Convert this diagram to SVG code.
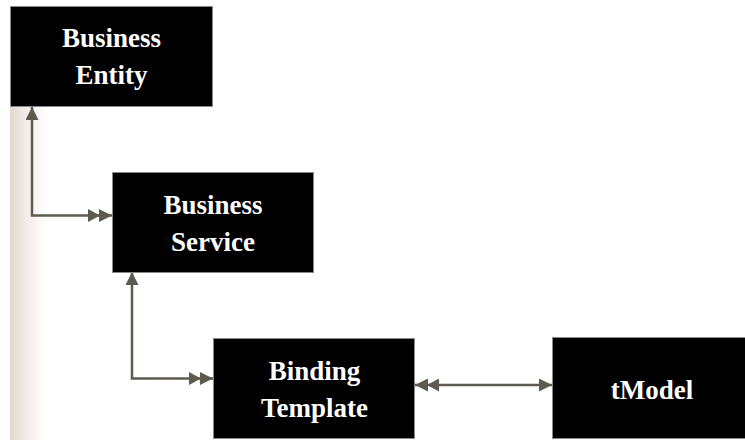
<svg xmlns="http://www.w3.org/2000/svg" width="745" height="440" viewBox="0 0 745 440">
  <style>
    .box { fill: #000; stroke: #8a8a8a; stroke-width: 1; }
    .label { fill: #fff; font-family: "Liberation Serif", "Times New Roman", serif; font-weight: bold; font-size: 27px; text-anchor: middle; }
    .link { fill: none; stroke: #5e5a4e; stroke-width: 2.5; }
  </style>
  <defs>
    <linearGradient id="edgeShade" x1="0" y1="0" x2="1" y2="0">
      <stop offset="0" stop-color="#e0d9d1"/>
      <stop offset="0.5" stop-color="#f3efeb"/>
      <stop offset="1" stop-color="#ffffff"/>
    </linearGradient>
    <marker id="head" markerUnits="userSpaceOnUse" markerWidth="14" markerHeight="13" refX="13" refY="6.5" orient="auto-start-reverse">
      <path d="M0,0 L13,6.5 L0,13 Z" fill="#5e5a4e"/>
    </marker>
    <marker id="head2" markerUnits="userSpaceOnUse" markerWidth="25" markerHeight="13" refX="24" refY="6.5" orient="auto-start-reverse">
      <path d="M0,0 L12,6.5 L0,13 Z M11,0 L24,6.5 L11,13 Z" fill="#5e5a4e"/>
    </marker>
  </defs>

  <rect x="0" y="0" width="745" height="440" fill="#fff"/>
  <!-- shaded strip along the left margin -->
  <rect x="10" y="107" width="36" height="333" fill="url(#edgeShade)"/>

  <g id="connectors">
    <path class="link" d="M32,107 V215.5 H112" marker-start="url(#head)" marker-end="url(#head2)"/>
    <path class="link" d="M132,272 V378.5 H213" marker-start="url(#head)" marker-end="url(#head2)"/>
    <path class="link" d="M415,385 H552" marker-start="url(#head2)" marker-end="url(#head)"/>
  </g>

  <g id="business-entity">
    <rect class="box" x="10.5" y="6.5" width="202" height="100"/>
    <text class="label" x="111.5" y="47">Business</text>
    <text class="label" x="111.5" y="84">Entity</text>
  </g>

  <g id="business-service">
    <rect class="box" x="112.5" y="172.5" width="201" height="100"/>
    <text class="label" x="213" y="214">Business</text>
    <text class="label" x="213" y="251">Service</text>
  </g>

  <g id="binding-template">
    <rect class="box" x="213.5" y="338.5" width="201" height="100"/>
    <text class="label" x="314.5" y="380">Binding</text>
    <text class="label" x="314.5" y="417">Template</text>
  </g>

  <g id="tmodel">
    <rect class="box" x="552.5" y="337.5" width="200" height="101"/>
    <text class="label" x="652" y="399">tModel</text>
  </g>
</svg>
